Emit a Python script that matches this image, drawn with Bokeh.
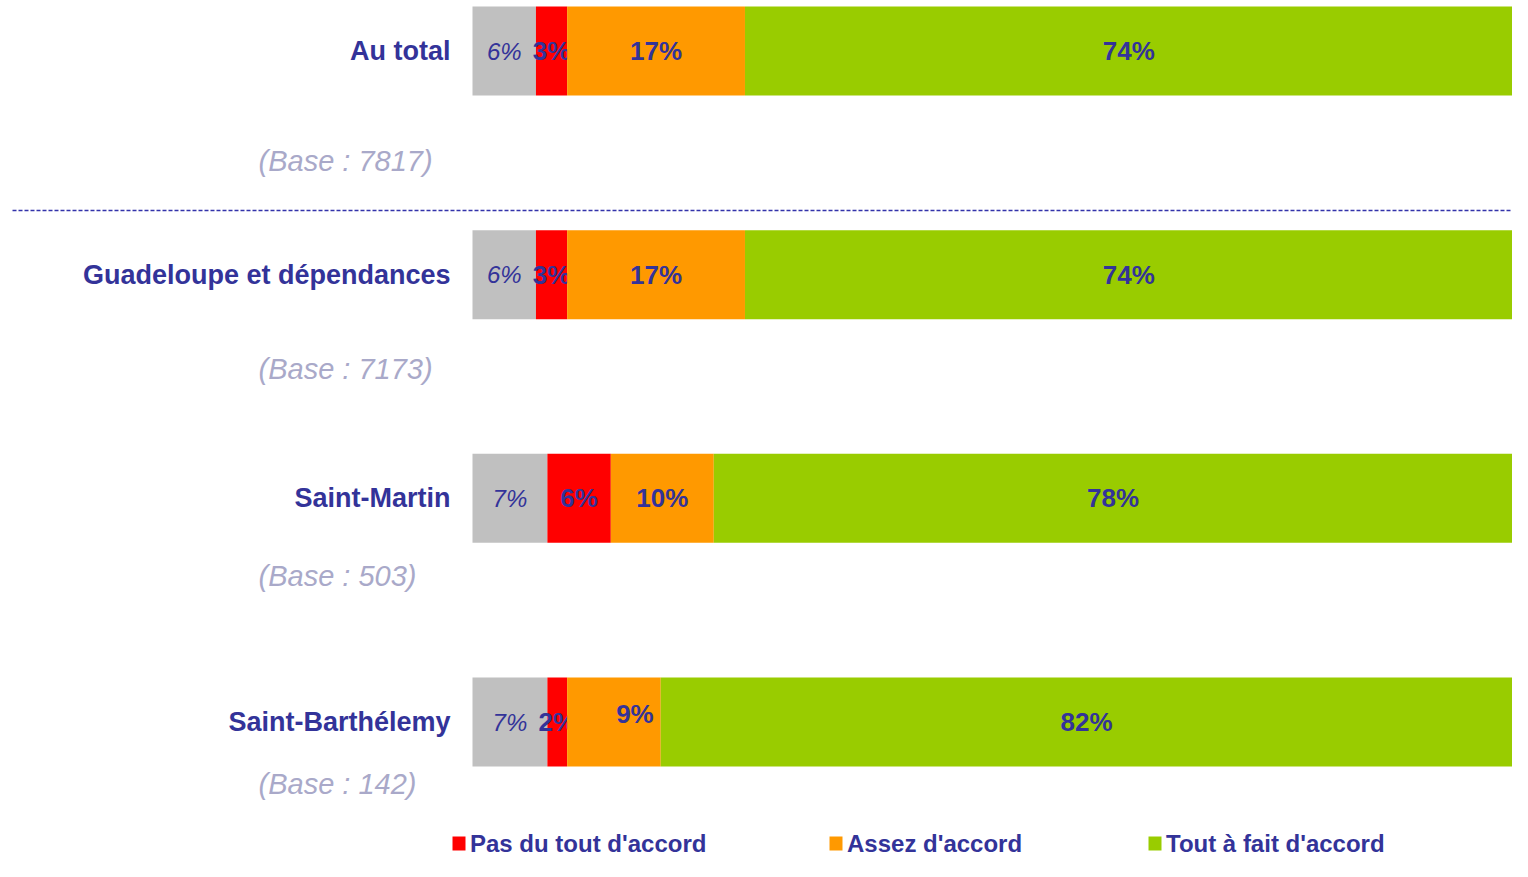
import numpy as np
from bokeh.plotting import figure
from bokeh.models import Range1d, ColumnDataSource
from bokeh.core.properties import value
from bokeh.embed import file_html
from bokeh.resources import INLINE

# ---------------- data ----------------
categories = ["Au total", "Guadeloupe et dépendances", "Saint-Martin", "Saint-Barthélemy"]
bases = ["(Base : 7817)", "(Base : 7173)", "(Base : 503)", "(Base : 142)"]
series_names = ["NSP", "Pas du tout d'accord", "Assez d'accord", "Tout à fait d'accord"]
nsp = [6.1, 6.1, 7.2, 7.2]
pas_du_tout = [3.0, 3.0, 6.1, 1.9]
assez = [17.1, 17.1, 9.9, 9.0]
tout_a_fait = [73.8, 73.8, 76.8, 81.9]
label_nsp = ["6%", "6%", "7%", "7%"]
label_pas = ["3%", "3%", "6%", "2%"]
label_assez = ["17%", "17%", "10%", "9%"]
label_tout = ["74%", "74%", "78%", "82%"]

# ---------------- styles / layout ----------------
colors = ["#C0C0C0", "#FF0000", "#FF9900", "#99CC00"]
TXT = "#333399"
BASE_COL = "#A9A9C9"
SANS = "Liberation Sans"

W, H = 1512, 861
X0_PX = 472.0            # px of 0 %
PX_PER_PCT = (W - X0_PX) / 100.0
ROW_PX = 223.67          # px between rows
ROW0_PX = 50.5           # px (from top) of first row centre

x_start = -X0_PX / PX_PER_PCT
y_top = -ROW0_PX / ROW_PX
y_bottom = (H - ROW0_PX) / ROW_PX

def px_to_x(fx):
    return (fx - X0_PX) / PX_PER_PCT

def px_to_row(fy):
    return (fy - ROW0_PX) / ROW_PX

p = figure(width=W, height=H, output_backend="svg", toolbar_location=None,
           x_range=Range1d(x_start, 100), y_range=Range1d(y_bottom, y_top),
           min_border=0, min_border_left=0, min_border_right=0,
           min_border_top=0, min_border_bottom=0)
p.axis.visible = False
p.grid.visible = False
p.outline_line_color = None
p.background_fill_color = "white"
p.border_fill_color = "white"

rows = np.arange(len(categories), dtype=float)
series = [nsp, pas_du_tout, assez, tout_a_fait]
labels = [label_nsp, label_pas, label_assez, label_tout]
bar_h = 89.0 / ROW_PX

left = np.zeros(len(categories))
for vals, col, labs, k in zip(series, colors, labels, range(4)):
    v = np.array(vals, dtype=float)
    right = left + v
    p.hbar(y=rows, left=left, right=right, height=bar_h, fill_color=col, line_color=None)
    cx = (left + right) / 2
    xo = [0, 0, 0, 0]
    yo = [0, 0, 0, 0]
    if k == 2:
        xo = [0, 0, 0, 21]
        yo = [0, 0, 0, -8]
    src = ColumnDataSource(dict(x=cx, y=rows, t=labs, xo=xo, yo=yo))
    p.text(x="x", y="y", text="t", source=src, x_offset="xo", y_offset="yo",
           text_align="center", text_baseline="middle",
           text_font=value(SANS),
           text_font_size="24px" if k == 0 else "26px",
           text_font_style="italic" if k == 0 else "bold",
           text_color=TXT)
    left = right

# category labels
p.text(x=[0] * 4, y=rows, text=categories, x_offset=-22,
       text_align="right", text_baseline="middle",
       text_font=value(SANS), text_font_size="27px", text_font_style="bold",
       text_color=TXT)

# base labels
base_dy_px = [110, 94, 78, 62]
base_rows = rows + np.array(base_dy_px) / ROW_PX
p.text(x=[px_to_x(258)] * 4, y=base_rows, text=bases,
       text_align="left", text_baseline="middle",
       text_font=value(SANS), text_font_size="29px", text_font_style="italic",
       text_color=BASE_COL)

# dashed separator
sep_row = px_to_row(210)
p.segment(x0=[px_to_x(12)], y0=[sep_row], x1=[100], y1=[sep_row],
          line_color="#3333AA", line_width=1.5, line_dash="4 2")

# legend
leg_row = px_to_row(843)
leg_x = [px_to_x(458.5), px_to_x(835.5), px_to_x(1154.5)]
p.rect(x=leg_x, y=[leg_row] * 3, width=13, height=14, width_units="screen",
       height_units="screen", fill_color=colors[1:], line_color=None)
p.text(x=leg_x, y=[leg_row] * 3, text=series_names[1:], x_offset=11,
       text_align="left", text_baseline="middle",
       text_font=value(SANS), text_font_size="24px", text_font_style="bold",
       text_color=TXT)

open("out.html", "w").write(file_html(p, INLINE))
